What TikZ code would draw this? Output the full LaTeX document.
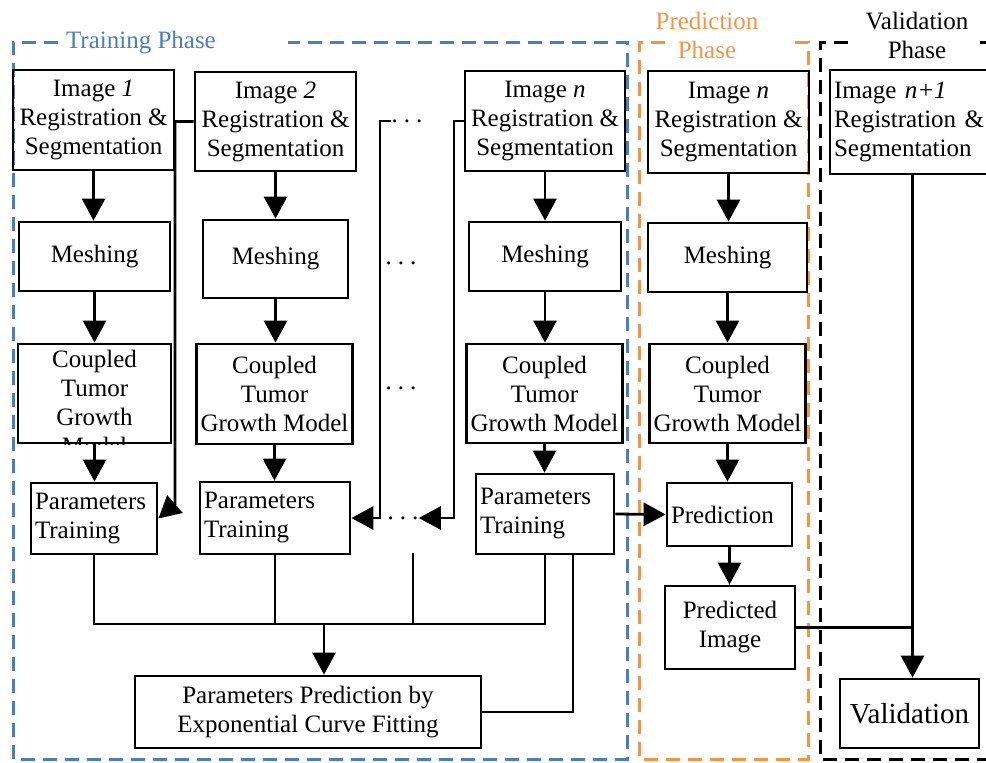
\documentclass[tikz,border=0pt]{standalone}
\usepackage{fontspec}
\setmainfont{Liberation Serif}
\usetikzlibrary{arrows.meta}

\definecolor{trainblue}{RGB}{74,126,193}
\definecolor{predorange}{RGB}{241,149,69}

\newcommand{\gapdots}{.\kern3pt.\kern3pt.}

\tikzset{
  box/.style={draw, line width=1.4pt, inner sep=2pt, align=center},
  lbox/.style={draw, line width=1.4pt, inner sep=2pt, align=left},
  arr/.style={-{Triangle[length=11pt,width=11.5pt]}, line width=1.4pt},
  wire/.style={line width=1.3pt},
  phase/.style={line width=1.5pt, dash pattern=on 7pt off 4pt},
}

\begin{document}
\begin{tikzpicture}[x=0.5pt,y=-0.5pt,font=\fontsize{12.5}{14.5}\selectfont]
\clip (0,0) rectangle (986,762);
% phase frames
\draw[phase, trainblue] (58,42) -| (13,759) -| (627,42) -- (288,42);
\draw[phase, predorange] (665,42) -| (639,759) -| (808,42) -- (788,42);
\draw[phase, black] (848,42) -| (820,759) -- (1000,759);
\draw[phase, black] (980,42) -- (1000,42);
\node[anchor=west, text=trainblue] (ttrain) at (59,43) {Training Phase};
\node[align=center, text=predorange] (tpred) at (707,35) {Prediction\\Phase};
\node[align=center] (tvalid) at (917,35) {Validation\\Phase};

% image boxes
\node[box, minimum width=80.5pt, minimum height=50pt] (img1) at (93.5,120) {Image \textit{1}\\Registration \&\\Segmentation};
\node[box, minimum width=80.5pt, minimum height=49.5pt] (img2) at (275.5,121.5) {Image \textit{2}\\Registration \&\\Segmentation};
\node[box, minimum width=80pt, minimum height=50pt] (imgn) at (545,121) {Image \textit{n}\\Registration \&\\Segmentation};
\node[box, minimum width=80.5pt, minimum height=51pt] (imgp) at (728.5,122) {Image \textit{n}\\Registration \&\\Segmentation};
\node[lbox, text width=78.5pt, minimum height=52pt] (imgv) at (912.5,122) {Image \textit{n+1}\\ Registration \&\\Segmentation};

% meshing
\node[box, minimum width=75.5pt, minimum height=34.5pt] (mesh1) at (94.5,256.5) {Meshing};
\node[box, minimum width=72.5pt, minimum height=39pt] (mesh2) at (275.5,259) {Meshing};
\node[box, minimum width=76pt, minimum height=34.5pt] (meshn) at (545,256.5) {Meshing};
\node[box, minimum width=79.5pt, minimum height=34.5pt] (meshp) at (727.5,257.5) {Meshing};

% coupled model
\node[box, minimum width=76.5pt, minimum height=49.5pt] (cpl1) at (94.5,393.5) {};
\begin{scope}
\clip (cpl1.south west) rectangle (cpl1.north east);
\node[anchor=north, align=center] (cpl1txt) at (cpl1.north) {Coupled\\Tumor\\Growth\\Model};
\end{scope}
\node[box, minimum width=77.5pt, minimum height=50pt] (cpl2) at (274.5,394) {Coupled\\Tumor\\Growth Model};
\node[box, minimum width=76.5pt, minimum height=49.5pt] (cpln) at (544.5,393.5) {Coupled\\Tumor\\Growth Model};
\node[box, minimum width=77.5pt, minimum height=49.5pt] (cplp) at (727.5,393.5) {Coupled\\Tumor\\Growth Model};

% training
\node[lbox, text width=59pt, minimum height=35.5pt] (par1) at (94,518.5) {Parameters\\Training};
\node[lbox, text width=71pt, minimum height=36pt] (par2) at (275,518) {Parameters\\Training};
\node[lbox, text width=65pt, minimum height=40pt] (parn) at (545,514) {Parameters\\Training};
\node[box, minimum width=173pt, minimum height=36pt] (fit) at (308,712) {Parameters Prediction by\\Exponential Curve Fitting};

% prediction / validation
\node[lbox, text width=58.5pt, minimum height=31.5pt] (pred) at (729.5,514.5) {Prediction};
\node[box, minimum width=65pt, minimum height=41.5pt] (pimg) at (730,627.5) {Predicted\\Image};
\node[box, minimum width=69.5pt, minimum height=34.5pt, font=\fontsize{14.5}{16}\selectfont] (val) at (909.5,713.5) {Validation};

% dots
\node[inner sep=0] (dots1) at (407,121) {\gapdots};
\node[inner sep=0] (dots2) at (401,263) {\gapdots};
\node[inner sep=0] (dots3) at (401,388) {\gapdots};
\node[inner sep=0] (dots4) at (403,518) {\gapdots};

% column arrows
\draw[arr] (img1.south) -- (img1.south |- mesh1.north);
\draw[arr] (mesh1.south) -- (mesh1.south |- cpl1.north);
\draw[arr] (cpl1.south) -- (cpl1.south |- par1.north);
\draw[arr] (img2.south) -- (img2.south |- mesh2.north);
\draw[arr] (mesh2.south) -- (mesh2.south |- cpl2.north);
\draw[arr] (cpl2.south) -- (cpl2.south |- par2.north);
\draw[arr] (imgn.south) -- (imgn.south |- meshn.north);
\draw[arr] (meshn.south) -- (meshn.south |- cpln.north);
\draw[arr] (cpln.south) -- (cpln.south |- parn.north);
\draw[arr] (imgp.south) -- (imgp.south |- meshp.north);
\draw[arr] (meshp.south) -- (meshp.south |- cplp.north);
\draw[arr] (cplp.south) -- (cplp.south |- pred.north);
\draw[arr] (pred.south) -- (pred.south |- pimg.north);

% next image into training
\coordinate (j1) at (175,504);
\coordinate (j2) at (380,518);
\coordinate (j3) at (454,518);
\draw[arr] (img2.west) -| (j1) -- (par1.east);
\draw[arr] (dots1.west) -| (j2) -- (par2.east);
\draw[arr] (imgn.west) -| (j3) -- (dots4.east);

% collect trained parameters
\coordinate (bus) at (324,624);
\coordinate (gap) at (413,553);
\coordinate (tap) at (573,554);
\draw[wire] (par1.south) |- (bus) -| (parn.south);
\draw[wire] (par2.south) -- (par2.south |- bus);
\draw[wire] (gap) -- (gap |- bus);
\draw[arr] (bus) -- (bus |- fit.north);
\draw[wire] (fit.east) -| (tap);

\draw[arr] (parn.east) -- (pred.west);
\draw[arr] (imgv.south) -- (imgv.south |- val.north);
\draw[wire] (pimg.east) -- (pimg.east -| imgv.south);
\end{tikzpicture}
\end{document}
